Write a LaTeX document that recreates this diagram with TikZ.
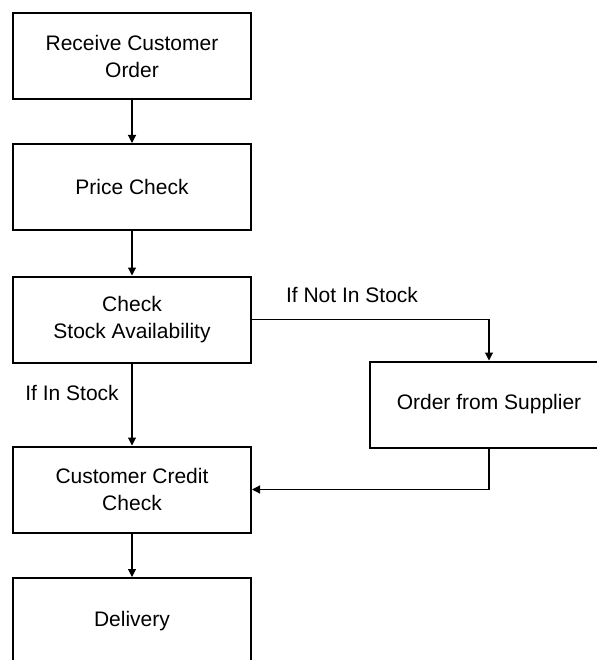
\documentclass[tikz,border=0pt]{standalone}
\usepackage{fontspec}
\setmainfont{Liberation Sans}
\usepackage{tikz}
\usetikzlibrary{arrows.meta, positioning}

\begin{document}
\begin{tikzpicture}[
            x=1pt, y=-1pt,
            stepbox/.style={rectangle, draw, line width=2pt, minimum width=238pt, minimum height=86pt,
                            align=center, font=\fontsize{21}{27}\selectfont},
            edge/.style={-{Triangle[width=8pt, length=8pt]}, line width=1.1pt},
            cond/.style={font=\fontsize{21}{25}\selectfont}
        ]
        \useasboundingbox (0,0) rectangle (596,660);

        % Nodes (manual layout to match figure)
        \node[stepbox] (receive) at (132, 56) {Receive Customer\\Order};
        \node[stepbox] (price) at (132, 187) {Price Check};
        \node[stepbox] (stock) at (132, 319.5) {Check\\Stock Availability};
        \node[stepbox] (supplier) at (489, 404.5) {Order from Supplier};
        \node[stepbox] (credit) at (132, 489.5) {Customer Credit\\Check};
        \node[stepbox] (delivery) at (132, 621) {Delivery};

        % Labels
        \node[cond] (notin) at (352, 295) {If Not In Stock};
        \node[cond] (instock) at (72, 393) {If In Stock};

        % Edges
        \draw[edge] (receive) -- (price);
        \draw[edge] (price) -- (stock);
        \draw[edge] (stock) -- (credit);
        \draw[edge] (stock.east) -| (supplier.north);
        \draw[edge] (supplier.south) |- (credit.east);
        \draw[edge] (credit) -- (delivery);

    \end{tikzpicture}
\end{document}
